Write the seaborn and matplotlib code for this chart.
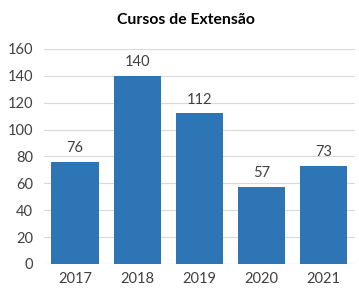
import matplotlib
matplotlib.use("Agg")
import matplotlib.pyplot as plt
import seaborn as sns
import pandas as pd

years = ["2017", "2018", "2019", "2020", "2021"]
values = [76, 140, 112, 57, 73]
title = "Cursos de Extensão"
yticks = [0, 20, 40, 60, 80, 100, 120, 140, 160]

sns.set_style("white")
plt.rcParams["font.family"] = ["Lato", "DejaVu Sans"]

df = pd.DataFrame({"year": years, "value": values})
fig = plt.figure(figsize=(3.59, 2.91), dpi=100)
ax = fig.add_axes([0.1226, 0.0928, 0.866, 0.739])
sns.barplot(data=df, x="year", y="value", color="#2E75B6", saturation=1, width=0.76,
            linewidth=0, edgecolor="none", ax=ax, zorder=3)
ax.set_xlim(-0.5, 4.5)
ax.set_ylim(0, 160)
ax.set_yticks(yticks)
ax.yaxis.grid(True, color="#D9D9D9", linewidth=0.8, zorder=0)
ax.set_axisbelow(True)
for s in ax.spines.values():
    s.set_visible(False)
ax.axhline(0, color="#D9D9D9", linewidth=0.8, zorder=1)
ax.set_xlabel("")
ax.set_ylabel("")
ax.tick_params(axis="both", length=0, labelsize=10.5, colors="#404040")
ax.tick_params(axis="x", pad=6)
ax.tick_params(axis="y", pad=8)
for c in ax.containers:
    ax.bar_label(c, labels=[str(v) for v in values], padding=5, fontsize=10.5, color="#404040")
fig.text(0.518, 0.931, title, ha="center", va="center", fontsize=11.3, fontweight="bold", color="#000000")
fig.savefig("out.png", dpi=100)
